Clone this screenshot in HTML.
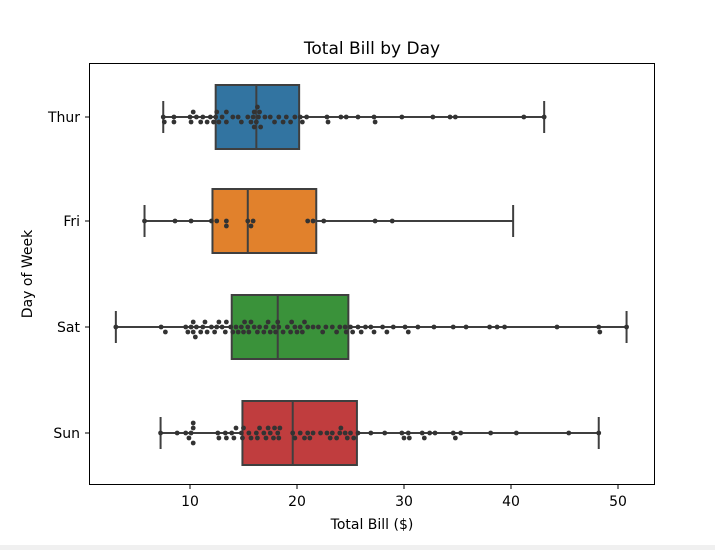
<!DOCTYPE html>
<html><head><meta charset="utf-8"><style>
body{margin:0;background:#fff;width:715px;height:550px;overflow:hidden;font-family:"Liberation Sans","DejaVu Sans",sans-serif}
.strip{position:absolute;left:0;top:545px;width:715px;height:5px;background:#f0f0f0}
</style></head><body>
<svg id="s" width="715" height="550" style="position:absolute;left:0;top:0" font-family="DejaVu Sans, Liberation Sans, sans-serif">
<text x="372" y="54" font-size="17" text-anchor="middle" fill="#000">Total Bill by Day</text>
<g id="g"></g>
<rect x="89.5" y="63.5" width="565" height="421" fill="none" stroke="#000" stroke-width="1"/>
<g font-size="14" fill="#000" text-anchor="middle">
<text x="190" y="506">10</text><text x="297" y="506">20</text><text x="404" y="506">30</text><text x="511" y="506">40</text><text x="618" y="506">50</text>
</g>
<g stroke="#000"><line x1="190" y1="485" x2="190" y2="489"/><line x1="297" y1="485" x2="297" y2="489"/><line x1="404" y1="485" x2="404" y2="489"/><line x1="511" y1="485" x2="511" y2="489"/><line x1="618" y1="485" x2="618" y2="489"/>
<line x1="85" y1="117" x2="89" y2="117"/><line x1="85" y1="221" x2="89" y2="221"/><line x1="85" y1="327" x2="89" y2="327"/><line x1="85" y1="433" x2="89" y2="433"/></g>
<g font-size="14" fill="#000" text-anchor="end">
<text x="80" y="122">Thur</text><text x="80" y="226">Fri</text><text x="80" y="332">Sat</text><text x="80" y="438">Sun</text></g>
<text x="372" y="529" font-size="14" text-anchor="middle">Total Bill ($)</text>
<text transform="translate(32,274) rotate(-90)" font-size="14" text-anchor="middle">Day of Week</text>
</svg>
<div class="strip"></div>
<script>
var X=function(v){return 83+10.7*v};
var days=[
{y:117,c:"#3274a1",q:[7.5,12.4,16.2,20.2,43.1],d:[7.5,7.6,8.5,8.5,10,10.1,10.3,10.6,11,11.2,11.6,11.9,12.2,12.4,12.5,12.7,13,13.4,13.4,14,14.5,14.8,15.4,15.7,15.9,16,16,16.2,16.3,16.4,16.5,16.6,17,17.5,17.9,18.3,18.7,19,19.4,19.8,20.3,20.5,20.9,22.8,22.9,24.1,24.6,25.7,27.2,27.3,29.8,32.7,34.3,34.8,41.2,43.1]},
{y:221,c:"#e1812c",q:[5.75,12.1,15.4,21.8,40.2],d:[5.75,8.6,10.1,12.0,12.5,13.4,13.4,15.4,15.7,15.9,21,21.5,22.5,27.3,28.9]},
{y:327,c:"#3a923a",q:[3.07,13.9,18.2,24.8,50.8],d:[3.07,7.3,7.7,9.6,9.8,10.1,10.3,10.3,10.5,10.6,11,11.2,11.4,11.6,12,12.3,12.5,12.7,13,13.3,13.4,13.8,14,14.3,14.5,14.8,15,15.1,15.4,15.5,15.7,16,16.3,16.5,16.9,17.1,17.3,17.5,17.8,18,18.2,18.3,18.7,19.1,19.4,19.5,19.8,20,20.3,20.5,20.7,21,21.5,22,22.4,22.7,23.3,23.7,24,24.5,24.6,25,25.2,25.7,26,26.4,26.9,27.2,28,28.4,29,30.1,30.4,31.3,32.8,34.6,35.8,38,38.7,39.4,44.3,48.2,48.3,50.8]},
{y:433,c:"#c03d3e",q:[7.25,14.9,19.6,25.6,48.2],d:[7.25,8.8,9.6,9.9,10.1,10.3,10.3,10.3,12.6,12.7,13.3,13.4,13.9,14.1,14.3,14.8,14.9,15,15.5,15.7,16.2,16.3,16.5,16.9,17.1,17.3,17.5,17.8,17.9,18.2,18.3,18.4,19.6,19.8,20.3,20.7,21,21.2,21.5,22.2,22.8,23.1,23.3,23.7,24,24.1,24.5,24.7,25,25.3,25.7,26.9,28.2,29.8,30,30.4,30.5,31.7,31.9,32.4,32.9,34.6,34.8,35.3,38.1,40.5,45.4,48.2]}];
var h="";
days.forEach(function(D){var y=D.y,q=D.q;
h+='<line x1="'+X(q[0])+'" x2="'+X(q[4])+'" y1="'+y+'" y2="'+y+'" stroke="#3f3f3f" stroke-width="2"/>';
h+='<line x1="'+X(q[0])+'" x2="'+X(q[0])+'" y1="'+(y-16)+'" y2="'+(y+16)+'" stroke="#3f3f3f" stroke-width="2"/>';
h+='<line x1="'+X(q[4])+'" x2="'+X(q[4])+'" y1="'+(y-16)+'" y2="'+(y+16)+'" stroke="#3f3f3f" stroke-width="2"/>';
h+='<rect x="'+X(q[1])+'" y="'+(y-32)+'" width="'+(X(q[3])-X(q[1]))+'" height="64" fill="'+D.c+'" stroke="#3f3f3f" stroke-width="2"/>';
h+='<line x1="'+X(q[2])+'" x2="'+X(q[2])+'" y1="'+(y-32)+'" y2="'+(y+32)+'" stroke="#3f3f3f" stroke-width="2"/>';
var placed=[];
D.d.forEach(function(v){var x=X(v),off=[0,5,-5,10,-10,15,-15];
for(var i=0;i<off.length;i++){var yy=y+off[i],ok=true;for(var j=0;j<placed.length;j++){var p=placed[j];if((p[0]-x)*(p[0]-x)+(p[1]-yy)*(p[1]-yy)<20){ok=false;break}}if(ok){placed.push([x,yy]);break}}});
placed.forEach(function(p){h+='<circle cx="'+p[0]+'" cy="'+p[1]+'" r="2.4" fill="#333"/>'});});
document.getElementById("g").innerHTML=h;
</script>
</body></html>
